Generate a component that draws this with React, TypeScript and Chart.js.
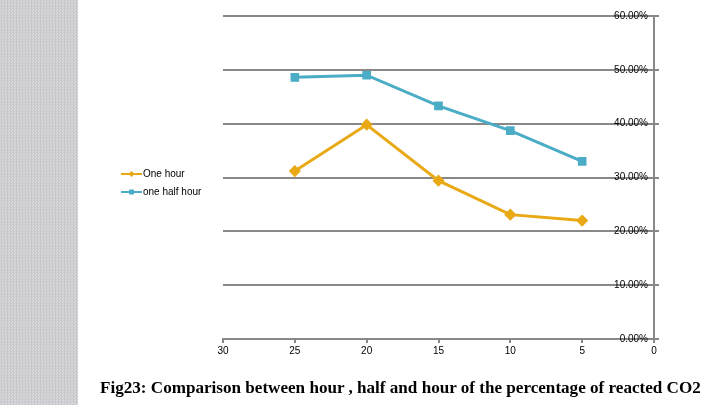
import React, { useEffect, useRef } from "react";
import { Chart, registerables } from "chart.js";

Chart.register(...registerables);

const xValues = [25, 20, 15, 10, 5];
const oneHour = [31.2, 39.8, 29.4, 23.1, 22.0];
const oneHalfHour = [48.6, 49.0, 43.3, 38.7, 33.0];
const seriesNames = ["One hour", "one half hour"];
const seriesColors = ["#E8A915", "#4BACC6"];
const caption = "Fig23: Comparison between hour , half and hour of the percentage of reacted CO2";

const legendPlugin = {
  id: "sideLegend",
  afterDraw(chart: any) {
    const ctx = chart.ctx;
    const items = [
      { name: seriesNames[0], color: seriesColors[0], style: "diamond", y: 174 },
      { name: seriesNames[1], color: seriesColors[1], style: "square", y: 192 },
    ];
    ctx.save();
    items.forEach((it) => {
      ctx.strokeStyle = it.color;
      ctx.lineWidth = 2;
      ctx.beginPath();
      ctx.moveTo(121, it.y);
      ctx.lineTo(142, it.y);
      ctx.stroke();
      ctx.fillStyle = it.color;
      if (it.style === "diamond") {
        ctx.beginPath();
        ctx.moveTo(131.5, it.y - 3);
        ctx.lineTo(134.5, it.y);
        ctx.lineTo(131.5, it.y + 3);
        ctx.lineTo(128.5, it.y);
        ctx.closePath();
        ctx.fill();
      } else {
        ctx.fillRect(129, it.y - 2.5, 5, 5);
      }
      ctx.fillStyle = "#000";
      ctx.font = "10px 'Liberation Sans', Arial, sans-serif";
      ctx.textBaseline = "middle";
      ctx.fillText(it.name, 143, it.y + 0.5);
    });
    ctx.restore();
  },
};

export default function App() {
  const ref = useRef<HTMLCanvasElement>(null);
  useEffect(() => {
    document.body.style.margin = "0";
    const chart = new Chart(ref.current!, {
      type: "line",
      data: {
        datasets: [
          {
            label: seriesNames[0],
            data: xValues.map((x, i) => ({ x, y: oneHour[i] })),
            borderColor: seriesColors[0],
            backgroundColor: seriesColors[0],
            borderWidth: 3,
            pointStyle: "rectRot",
            pointRadius: 4,
            pointHoverRadius: 4,
            tension: 0,
          },
          {
            label: seriesNames[1],
            data: xValues.map((x, i) => ({ x, y: oneHalfHour[i] })),
            borderColor: seriesColors[1],
            backgroundColor: seriesColors[1],
            borderWidth: 3,
            pointStyle: "rect",
            pointRadius: 4,
            pointHoverRadius: 4,
            tension: 0,
          },
        ],
      },
      options: {
        responsive: false,
        animation: false,
        events: [],
        layout: { padding: { left: 223, right: 56, top: 16, bottom: 46 } },
        plugins: { legend: { display: false }, tooltip: { enabled: false } },
        scales: {
          x: {
            type: "linear",
            min: 0,
            max: 30,
            reverse: true,
            afterFit: (s: any) => {
              s.height = 20;
            },
            grid: {
              drawOnChartArea: false,
              drawTicks: true,
              tickLength: 4,
              color: "#888888",
              lineWidth: 2,
            },
            border: { color: "#888888", width: 2 },
            ticks: {
              stepSize: 5,
              color: "#000",
              padding: 2,
              maxRotation: 0,
              font: { family: "'Liberation Sans', Arial, sans-serif", size: 10 },
            },
          },
          y: {
            position: "right",
            min: 0,
            max: 60,
            afterFit: (s: any) => {
              s.width = 10;
            },
            grid: {
              color: "#888888",
              lineWidth: 2,
              drawTicks: true,
              tickLength: 5,
            },
            border: { color: "#888888", width: 2 },
            ticks: {
              stepSize: 10,
              mirror: true,
              padding: -6,
              color: "#000",
              font: { family: "'Liberation Sans', Arial, sans-serif", size: 10 },
              callback: (v: any) => Number(v).toFixed(2) + "%",
            },
          },
        },
      },
      plugins: [legendPlugin],
    });
    return () => chart.destroy();
  }, []);

  return (
    <div style={{ position: "relative", width: 720, height: 405, background: "#fff", overflow: "hidden" }}>
      <div
        style={{
          position: "absolute",
          left: 0,
          top: 0,
          width: 78,
          height: 405,
          backgroundColor: "#d2d2d6",
          backgroundImage:
            "repeating-conic-gradient(#c8c8cc 0% 25%, #d8d8dc 0% 50%)",
          backgroundSize: "3px 3px",
        }}
      />
      <canvas ref={ref} width={720} height={405} style={{ position: "absolute", left: 0, top: 0 }} />
      <div
        style={{
          position: "absolute",
          left: 100,
          top: 378,
          fontFamily: "'Liberation Serif', 'Times New Roman', serif",
          fontSize: 17.1,
          fontWeight: "bold",
          color: "#000",
          whiteSpace: "nowrap",
          lineHeight: "20px",
        }}
      >
        {caption}
      </div>
    </div>
  );
}
